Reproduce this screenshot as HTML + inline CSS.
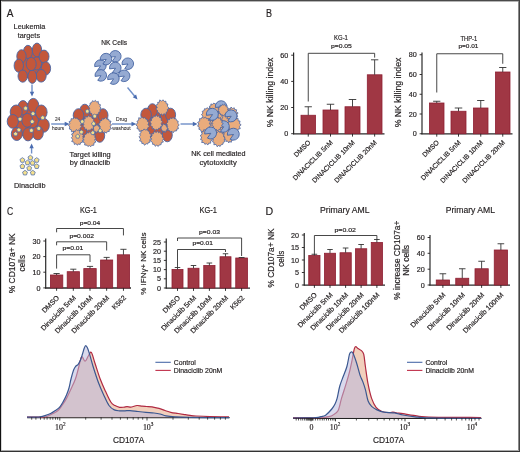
<!DOCTYPE html>
<html><head><meta charset="utf-8"><style>
html,body{margin:0;padding:0;background:#fff;}
svg{display:block;font-family:"Liberation Sans", sans-serif;will-change:transform;}
text{stroke:#231f20;stroke-width:0.18px;}
</style></head><body>
<svg width="520" height="452" viewBox="0 0 520 452">
<text x="6.80" y="16.60" font-size="10.6" text-anchor="start" fill="#231f20" textLength="6.70" lengthAdjust="spacingAndGlyphs">A</text>
<text x="29.40" y="29.20" font-size="8" text-anchor="middle" fill="#231f20" textLength="31.60" lengthAdjust="spacingAndGlyphs">Leukemia</text>
<text x="28.90" y="37.70" font-size="8" text-anchor="middle" fill="#231f20" textLength="22.30" lengthAdjust="spacingAndGlyphs">targets</text>
<ellipse cx="32.3" cy="63.5" rx="14" ry="15.5" fill="#c3573b"/>
<ellipse cx="36.80" cy="63.40" rx="4.8" ry="6.6" transform="rotate(0 36.80 63.40)" fill="#c3573b" stroke="#4866a6" stroke-width="0.9"/>
<ellipse cx="27.90" cy="51.90" rx="4.5" ry="6.6" transform="rotate(0 27.90 51.90)" fill="#c3573b" stroke="#4866a6" stroke-width="0.9"/>
<ellipse cx="37.00" cy="50.00" rx="4.7" ry="6.9" transform="rotate(0 37.00 50.00)" fill="#c3573b" stroke="#4866a6" stroke-width="0.9"/>
<ellipse cx="21.50" cy="56.30" rx="4.7" ry="6.6" transform="rotate(0 21.50 56.30)" fill="#c3573b" stroke="#4866a6" stroke-width="0.9"/>
<ellipse cx="44.00" cy="56.50" rx="5" ry="6.4" transform="rotate(0 44.00 56.50)" fill="#c3573b" stroke="#4866a6" stroke-width="0.9"/>
<ellipse cx="18.80" cy="65.70" rx="4.7" ry="6.6" transform="rotate(0 18.80 65.70)" fill="#c3573b" stroke="#4866a6" stroke-width="0.9"/>
<ellipse cx="45.90" cy="68.40" rx="4.7" ry="6.6" transform="rotate(0 45.90 68.40)" fill="#c3573b" stroke="#4866a6" stroke-width="0.9"/>
<ellipse cx="22.70" cy="76.10" rx="4.7" ry="6.1" transform="rotate(0 22.70 76.10)" fill="#c3573b" stroke="#4866a6" stroke-width="0.9"/>
<ellipse cx="41.20" cy="75.80" rx="5" ry="6.3" transform="rotate(0 41.20 75.80)" fill="#c3573b" stroke="#4866a6" stroke-width="0.9"/>
<ellipse cx="32.30" cy="76.70" rx="4.4" ry="6.7" transform="rotate(0 32.30 76.70)" fill="#c3573b" stroke="#4866a6" stroke-width="0.9"/>
<ellipse cx="31.20" cy="64.00" rx="5" ry="6.6" transform="rotate(0 31.20 64.00)" fill="#c3573b" stroke="#4866a6" stroke-width="0.9"/>
<line x1="32.00" y1="84.50" x2="32.00" y2="92.20" stroke="#6f8fc8" stroke-width="1.4"/>
<polygon points="32.00,96.50 29.80,91.70 34.20,91.70" fill="#4a6cb0"/>
<ellipse cx="28.3" cy="120" rx="17" ry="17" fill="#c3573b"/>
<ellipse cx="33.00" cy="121.00" rx="5.5" ry="6.9" transform="rotate(0 33.00 121.00)" fill="#c3573b" stroke="#4866a6" stroke-width="0.9"/>
<ellipse cx="22.00" cy="127.00" rx="5.5" ry="6.9" transform="rotate(0 22.00 127.00)" fill="#c3573b" stroke="#4866a6" stroke-width="0.9"/>
<ellipse cx="23.00" cy="107.80" rx="5.2" ry="7.2" transform="rotate(0 23.00 107.80)" fill="#c3573b" stroke="#4866a6" stroke-width="0.9"/>
<ellipse cx="33.30" cy="105.60" rx="5.5" ry="7.2" transform="rotate(0 33.30 105.60)" fill="#c3573b" stroke="#4866a6" stroke-width="0.9"/>
<ellipse cx="16.20" cy="112.00" rx="6" ry="7" transform="rotate(0 16.20 112.00)" fill="#c3573b" stroke="#4866a6" stroke-width="0.9"/>
<ellipse cx="41.30" cy="112.20" rx="5.8" ry="7.2" transform="rotate(0 41.30 112.20)" fill="#c3573b" stroke="#4866a6" stroke-width="0.9"/>
<ellipse cx="12.80" cy="121.40" rx="5.6" ry="6.9" transform="rotate(0 12.80 121.40)" fill="#c3573b" stroke="#4866a6" stroke-width="0.9"/>
<ellipse cx="43.50" cy="125.30" rx="5.8" ry="7" transform="rotate(0 43.50 125.30)" fill="#c3573b" stroke="#4866a6" stroke-width="0.9"/>
<ellipse cx="16.80" cy="133.90" rx="5.5" ry="6.6" transform="rotate(0 16.80 133.90)" fill="#c3573b" stroke="#4866a6" stroke-width="0.9"/>
<ellipse cx="37.80" cy="133.00" rx="5.5" ry="6.9" transform="rotate(0 37.80 133.00)" fill="#c3573b" stroke="#4866a6" stroke-width="0.9"/>
<ellipse cx="28.00" cy="134.30" rx="5.2" ry="6.6" transform="rotate(0 28.00 134.30)" fill="#c3573b" stroke="#4866a6" stroke-width="0.9"/>
<ellipse cx="27.30" cy="120.30" rx="5.5" ry="6.9" transform="rotate(0 27.30 120.30)" fill="#c3573b" stroke="#4866a6" stroke-width="0.9"/>
<polygon points="25.60,106.10 27.79,107.69 26.95,110.26 24.25,110.26 23.41,107.69" fill="#f5e08c" stroke="#4d6cab" stroke-width="0.75" stroke-linejoin="round"/>
<polygon points="33.00,111.40 35.19,112.99 34.35,115.56 31.65,115.56 30.81,112.99" fill="#f5e08c" stroke="#4d6cab" stroke-width="0.75" stroke-linejoin="round"/>
<polygon points="20.00,116.90 22.19,118.49 21.35,121.06 18.65,121.06 17.81,118.49" fill="#f5e08c" stroke="#4d6cab" stroke-width="0.75" stroke-linejoin="round"/>
<polygon points="32.20,119.40 34.39,120.99 33.55,123.56 30.85,123.56 30.01,120.99" fill="#f5e08c" stroke="#4d6cab" stroke-width="0.75" stroke-linejoin="round"/>
<polygon points="42.70,115.50 44.89,117.09 44.05,119.66 41.35,119.66 40.51,117.09" fill="#f5e08c" stroke="#4d6cab" stroke-width="0.75" stroke-linejoin="round"/>
<polygon points="38.80,126.20 40.99,127.79 40.15,130.36 37.45,130.36 36.61,127.79" fill="#f5e08c" stroke="#4d6cab" stroke-width="0.75" stroke-linejoin="round"/>
<polygon points="31.40,128.20 33.59,129.79 32.75,132.36 30.05,132.36 29.21,129.79" fill="#f5e08c" stroke="#4d6cab" stroke-width="0.75" stroke-linejoin="round"/>
<polygon points="18.90,127.70 21.09,129.29 20.25,131.86 17.55,131.86 16.71,129.29" fill="#f5e08c" stroke="#4d6cab" stroke-width="0.75" stroke-linejoin="round"/>
<polygon points="15.60,131.70 17.79,133.29 16.95,135.86 14.25,135.86 13.41,133.29" fill="#f5e08c" stroke="#4d6cab" stroke-width="0.75" stroke-linejoin="round"/>
<line x1="31.60" y1="153.50" x2="31.60" y2="147.80" stroke="#6f8fc8" stroke-width="1.4"/>
<polygon points="31.60,143.50 33.80,148.30 29.40,148.30" fill="#4a6cb0"/>
<polygon points="30.40,155.25 32.83,157.01 31.90,159.86 28.90,159.86 27.97,157.01" fill="#f5e08c" stroke="#4d6cab" stroke-width="0.75" stroke-linejoin="round"/>
<polygon points="22.40,157.65 24.83,159.41 23.90,162.26 20.90,162.26 19.97,159.41" fill="#f5e08c" stroke="#4d6cab" stroke-width="0.75" stroke-linejoin="round"/>
<polygon points="36.70,157.65 39.13,159.41 38.20,162.26 35.20,162.26 34.27,159.41" fill="#f5e08c" stroke="#4d6cab" stroke-width="0.75" stroke-linejoin="round"/>
<polygon points="27.50,160.15 29.93,161.91 29.00,164.76 26.00,164.76 25.07,161.91" fill="#f5e08c" stroke="#4d6cab" stroke-width="0.75" stroke-linejoin="round"/>
<polygon points="32.50,160.55 34.93,162.31 34.00,165.16 31.00,165.16 30.07,162.31" fill="#f5e08c" stroke="#4d6cab" stroke-width="0.75" stroke-linejoin="round"/>
<polygon points="22.40,163.85 24.83,165.61 23.90,168.46 20.90,168.46 19.97,165.61" fill="#f5e08c" stroke="#4d6cab" stroke-width="0.75" stroke-linejoin="round"/>
<polygon points="36.70,163.85 39.13,165.61 38.20,168.46 35.20,168.46 34.27,165.61" fill="#f5e08c" stroke="#4d6cab" stroke-width="0.75" stroke-linejoin="round"/>
<polygon points="29.20,165.75 31.63,167.51 30.70,170.36 27.70,170.36 26.77,167.51" fill="#f5e08c" stroke="#4d6cab" stroke-width="0.75" stroke-linejoin="round"/>
<polygon points="25.00,170.35 27.43,172.11 26.50,174.96 23.50,174.96 22.57,172.11" fill="#f5e08c" stroke="#4d6cab" stroke-width="0.75" stroke-linejoin="round"/>
<polygon points="32.80,170.35 35.23,172.11 34.30,174.96 31.30,174.96 30.37,172.11" fill="#f5e08c" stroke="#4d6cab" stroke-width="0.75" stroke-linejoin="round"/>
<text x="29.80" y="188.20" font-size="7.4" text-anchor="middle" fill="#231f20" textLength="31.50" lengthAdjust="spacingAndGlyphs">Dinaciclib</text>
<line x1="51.20" y1="124.00" x2="65.20" y2="124.00" stroke="#6f8fc8" stroke-width="1.4"/>
<polygon points="69.50,124.00 64.70,126.20 64.70,121.80" fill="#4a6cb0"/>
<text x="57.60" y="121.30" font-size="4.6" text-anchor="middle" fill="#231f20" textLength="5.30" lengthAdjust="spacingAndGlyphs" style="stroke-width:0.06px">24</text>
<text x="58.10" y="130.00" font-size="4.6" text-anchor="middle" fill="#231f20" textLength="12.20" lengthAdjust="spacingAndGlyphs" style="stroke-width:0.06px">hours</text>
<ellipse cx="90" cy="123.5" rx="16" ry="17" fill="#c3573b"/>
<ellipse cx="88.00" cy="118.00" rx="5" ry="6.5" transform="rotate(0 88.00 118.00)" fill="#c3573b" stroke="#4866a6" stroke-width="0.9"/>
<ellipse cx="82.00" cy="131.00" rx="5" ry="6.5" transform="rotate(0 82.00 131.00)" fill="#c3573b" stroke="#4866a6" stroke-width="0.9"/>
<ellipse cx="84.80" cy="111.10" rx="5" ry="6.9" transform="rotate(0 84.80 111.10)" fill="#c3573b" stroke="#4866a6" stroke-width="0.9"/>
<ellipse cx="78.50" cy="115.30" rx="5.3" ry="6.6" transform="rotate(0 78.50 115.30)" fill="#c3573b" stroke="#4866a6" stroke-width="0.9"/>
<ellipse cx="103.00" cy="115.30" rx="5" ry="6.6" transform="rotate(0 103.00 115.30)" fill="#c3573b" stroke="#4866a6" stroke-width="0.9"/>
<ellipse cx="99.70" cy="135.40" rx="5" ry="6.9" transform="rotate(0 99.70 135.40)" fill="#c3573b" stroke="#4866a6" stroke-width="0.9"/>
<polygon points="100.96,107.94 99.87,109.83 100.38,111.77 98.74,112.18 98.68,114.33 96.85,114.27 95.58,116.22 94.30,114.76 92.16,115.80 91.70,113.50 89.84,112.80 89.95,110.93 88.71,110.25 89.68,108.25 88.24,106.49 90.12,104.93 90.08,103.03 91.47,102.80 92.54,100.67 93.97,101.64 95.43,100.37 96.67,102.13 98.28,101.39 98.45,103.87 100.42,104.68 99.94,106.87" fill="#eaac7c" stroke="#4866a6" stroke-width="0.8" stroke-linejoin="round"/>
<polygon points="80.58,130.13 78.27,130.50 77.53,132.36 75.63,131.91 74.14,133.58 73.56,131.69 71.42,131.79 71.33,129.74 69.33,128.99 69.81,126.89 68.41,125.25 69.83,123.69 69.10,121.50 70.88,121.13 71.12,118.67 73.30,118.89 74.18,117.53 75.70,118.41 77.28,117.91 78.06,119.54 79.94,120.11 79.85,121.69 81.71,123.45 80.44,125.33 82.04,126.72 79.92,128.23" fill="#eaac7c" stroke="#4866a6" stroke-width="0.8" stroke-linejoin="round"/>
<polygon points="106.47,133.12 104.42,131.89 103.01,133.02 102.37,131.23 100.55,130.98 100.24,128.69 98.45,127.59 99.73,126.04 98.29,123.60 99.97,122.88 99.94,120.91 101.92,120.45 102.01,118.62 104.01,119.18 105.59,117.37 106.94,119.36 108.74,119.15 109.14,121.11 111.03,121.12 110.12,123.26 111.39,124.78 110.13,126.83 111.45,128.71 109.15,129.75 109.24,131.50 107.37,131.32" fill="#eaac7c" stroke="#4866a6" stroke-width="0.8" stroke-linejoin="round"/>
<polygon points="74.40,144.54 73.88,142.11 71.67,141.48 72.75,139.77 71.44,137.53 72.74,136.19 71.56,134.01 73.70,133.04 73.54,131.05 75.28,131.57 76.32,129.47 77.65,130.57 79.14,129.78 80.05,131.44 82.02,131.89 81.86,133.97 83.46,135.20 82.73,136.69 84.02,139.19 82.40,140.06 82.46,142.28 80.66,142.66 80.14,144.51 78.28,143.93 77.53,145.20 75.90,143.69" fill="#eaac7c" stroke="#4866a6" stroke-width="0.8" stroke-linejoin="round"/>
<polygon points="82.99,141.93 83.96,139.89 82.76,138.39 84.38,137.23 84.40,134.51 86.23,134.16 86.78,132.46 88.50,133.11 89.45,131.82 90.96,133.11 92.64,132.69 93.09,134.77 95.26,135.07 94.79,137.18 95.83,138.36 94.66,139.81 95.84,142.10 93.98,142.94 93.76,145.30 91.81,145.31 90.76,146.66 89.33,145.57 87.92,146.51 87.08,145.23 84.56,144.96 84.99,143.21" fill="#eaac7c" stroke="#4866a6" stroke-width="0.8" stroke-linejoin="round"/>
<polygon points="92.34,127.01 94.11,126.80 93.74,125.41 95.29,125.88 95.68,124.42 96.63,125.23 97.42,123.71 97.68,125.56 99.17,125.30 98.77,126.77 100.72,126.86 99.06,128.11 100.89,129.34 98.93,129.46 99.97,131.06 98.22,130.79 98.14,132.28 97.30,131.51 96.46,133.36 95.71,131.46 94.58,132.70 94.50,130.88 93.28,130.84 93.78,129.50 92.53,128.93 93.86,128.28" fill="#eaac7c" stroke="#4866a6" stroke-width="0.8" stroke-linejoin="round"/>
<polygon points="85.15,116.31 87.26,117.24 88.68,115.51 89.95,116.83 91.44,116.32 91.90,118.15 93.81,119.21 93.50,120.70 94.76,122.00 93.78,124.10 95.15,125.66 93.11,126.50 93.52,129.08 91.01,128.90 90.64,130.53 88.59,129.91 87.32,131.19 86.41,128.92 84.68,129.71 84.67,127.51 82.79,126.27 83.87,124.53 82.55,122.60 83.83,121.01 83.71,118.92 85.20,118.84" fill="#eaac7c" stroke="#4866a6" stroke-width="0.8" stroke-linejoin="round"/>
<polygon points="87.30,109.20 89.39,110.72 88.59,113.18 86.01,113.18 85.21,110.72" fill="#f5e08c" stroke="#4d6cab" stroke-width="0.75" stroke-linejoin="round"/>
<polygon points="94.70,114.10 96.79,115.62 95.99,118.08 93.41,118.08 92.61,115.62" fill="#f5e08c" stroke="#4d6cab" stroke-width="0.75" stroke-linejoin="round"/>
<polygon points="82.20,119.40 84.29,120.92 83.49,123.38 80.91,123.38 80.11,120.92" fill="#f5e08c" stroke="#4d6cab" stroke-width="0.75" stroke-linejoin="round"/>
<polygon points="93.60,121.50 95.69,123.02 94.89,125.48 92.31,125.48 91.51,123.02" fill="#f5e08c" stroke="#4d6cab" stroke-width="0.75" stroke-linejoin="round"/>
<polygon points="100.20,128.60 102.29,130.12 101.49,132.58 98.91,132.58 98.11,130.12" fill="#f5e08c" stroke="#4d6cab" stroke-width="0.75" stroke-linejoin="round"/>
<polygon points="92.80,130.60 94.89,132.12 94.09,134.58 91.51,134.58 90.71,132.12" fill="#f5e08c" stroke="#4d6cab" stroke-width="0.75" stroke-linejoin="round"/>
<polygon points="81.40,130.00 83.49,131.52 82.69,133.98 80.11,133.98 79.31,131.52" fill="#f5e08c" stroke="#4d6cab" stroke-width="0.75" stroke-linejoin="round"/>
<polygon points="77.70,134.20 79.79,135.72 78.99,138.18 76.41,138.18 75.61,135.72" fill="#f5e08c" stroke="#4d6cab" stroke-width="0.75" stroke-linejoin="round"/>
<ellipse cx="157.6" cy="123.0" rx="16" ry="17" fill="#c3573b"/>
<ellipse cx="155.60" cy="117.50" rx="5" ry="6.5" transform="rotate(0 155.60 117.50)" fill="#c3573b" stroke="#4866a6" stroke-width="0.9"/>
<ellipse cx="149.60" cy="130.50" rx="5" ry="6.5" transform="rotate(0 149.60 130.50)" fill="#c3573b" stroke="#4866a6" stroke-width="0.9"/>
<ellipse cx="152.40" cy="110.60" rx="5" ry="6.9" transform="rotate(0 152.40 110.60)" fill="#c3573b" stroke="#4866a6" stroke-width="0.9"/>
<ellipse cx="146.10" cy="114.80" rx="5.3" ry="6.6" transform="rotate(0 146.10 114.80)" fill="#c3573b" stroke="#4866a6" stroke-width="0.9"/>
<ellipse cx="170.60" cy="114.80" rx="5" ry="6.6" transform="rotate(0 170.60 114.80)" fill="#c3573b" stroke="#4866a6" stroke-width="0.9"/>
<ellipse cx="167.30" cy="134.90" rx="5" ry="6.9" transform="rotate(0 167.30 134.90)" fill="#c3573b" stroke="#4866a6" stroke-width="0.9"/>
<polygon points="165.71,114.66 163.86,113.67 162.69,115.76 161.70,113.90 159.67,114.91 159.20,112.97 157.36,112.14 157.55,110.56 155.54,108.89 157.32,107.68 155.75,105.24 158.01,104.09 157.60,102.43 159.29,102.32 159.75,99.89 161.59,101.24 163.00,99.79 164.48,101.54 165.79,101.11 166.28,103.75 167.87,103.99 167.35,106.26 169.14,107.98 167.22,109.60 167.83,111.04 166.28,112.15" fill="#eaac7c" stroke="#4866a6" stroke-width="0.8" stroke-linejoin="round"/>
<polygon points="142.12,132.51 141.06,131.10 139.26,131.36 138.72,129.00 136.96,128.65 137.49,126.39 135.80,124.89 137.69,122.77 136.90,121.37 138.66,120.26 138.77,117.66 140.67,118.52 141.62,116.62 143.32,118.14 145.08,117.49 145.85,119.23 147.36,119.31 147.37,121.31 149.01,122.85 148.00,124.53 149.58,126.52 147.67,127.85 147.83,129.98 145.86,130.41 145.31,132.59 143.40,131.19" fill="#eaac7c" stroke="#4866a6" stroke-width="0.8" stroke-linejoin="round"/>
<polygon points="167.83,130.26 167.89,128.22 166.31,126.82 167.36,125.14 166.38,123.24 167.87,122.19 167.45,119.54 169.34,119.87 170.55,117.76 172.01,118.64 173.09,117.24 174.44,118.93 175.84,118.53 176.77,120.72 178.21,121.23 177.79,123.36 179.21,124.75 177.84,126.56 178.43,128.75 176.88,129.01 176.57,130.88 174.38,131.00 173.17,132.79 172.18,131.34 170.31,132.06 169.74,130.73" fill="#eaac7c" stroke="#4866a6" stroke-width="0.8" stroke-linejoin="round"/>
<polygon points="139.11,136.78 140.42,135.24 139.61,133.84 141.02,132.71 141.14,130.39 142.90,130.64 143.93,129.04 145.79,130.05 147.47,129.49 148.09,131.15 149.59,131.12 149.62,133.77 151.67,134.60 150.07,136.99 151.68,138.76 149.79,139.52 150.02,142.24 148.42,142.40 147.70,144.10 146.25,143.73 144.42,145.22 143.44,143.35 141.88,143.55 141.67,141.38 139.52,140.90 140.62,139.09" fill="#eaac7c" stroke="#4866a6" stroke-width="0.8" stroke-linejoin="round"/>
<polygon points="151.78,133.53 153.51,133.76 154.08,131.42 156.41,132.42 157.69,130.83 158.59,132.78 160.48,131.62 160.93,133.94 162.60,134.47 162.34,137.18 164.05,138.59 162.49,140.17 163.35,142.08 161.39,142.47 161.08,144.62 159.11,145.00 158.24,146.43 156.71,145.14 155.22,146.31 154.18,144.19 152.71,144.44 152.38,142.34 150.38,140.82 151.62,139.13 150.52,137.43 152.05,136.00" fill="#eaac7c" stroke="#4866a6" stroke-width="0.8" stroke-linejoin="round"/>
<polygon points="163.20,123.23 164.17,124.68 165.36,123.89 165.37,125.25 166.72,124.64 166.29,126.46 167.77,126.45 166.87,127.73 168.42,128.97 166.80,129.16 167.24,130.67 165.90,130.64 165.86,132.38 164.53,131.15 164.14,132.73 163.25,130.90 162.28,131.66 162.23,130.29 161.04,130.42 161.52,128.87 160.01,128.22 161.41,127.58 160.15,126.39 161.89,125.94 161.17,124.34 162.84,125.20" fill="#eaac7c" stroke="#4866a6" stroke-width="0.8" stroke-linejoin="round"/>
<polygon points="158.96,115.70 159.90,117.97 161.68,117.85 160.97,120.27 162.60,121.50 161.20,123.68 162.39,126.06 160.45,126.82 160.57,128.28 158.69,128.23 158.04,130.00 156.34,129.35 154.78,130.39 153.94,128.57 152.02,128.91 152.43,126.65 150.47,125.78 151.12,123.44 149.66,121.73 151.57,120.56 151.42,118.36 152.88,117.99 153.52,115.83 155.31,116.59 156.19,114.64 157.38,116.50" fill="#eaac7c" stroke="#4866a6" stroke-width="0.8" stroke-linejoin="round"/>
<text x="90.10" y="156.50" font-size="7.5" text-anchor="middle" fill="#231f20" textLength="41.20" lengthAdjust="spacingAndGlyphs">Target killing</text>
<text x="90.00" y="164.60" font-size="7.5" text-anchor="middle" fill="#231f20" textLength="40.40" lengthAdjust="spacingAndGlyphs">by dinaciclib</text>
<line x1="112.00" y1="124.00" x2="132.00" y2="124.00" stroke="#6f8fc8" stroke-width="1.4"/>
<polygon points="136.30,124.00 131.50,126.20 131.50,121.80" fill="#4a6cb0"/>
<text x="121.50" y="121.25" font-size="4.6" text-anchor="middle" fill="#231f20" textLength="11.00" lengthAdjust="spacingAndGlyphs" style="stroke-width:0.06px">Drug</text>
<text x="121.50" y="129.60" font-size="4.6" text-anchor="middle" fill="#231f20" textLength="18.50" lengthAdjust="spacingAndGlyphs" style="stroke-width:0.06px">washout</text>
<text x="114.20" y="45.30" font-size="7.1" text-anchor="middle" fill="#231f20" textLength="25.70" lengthAdjust="spacingAndGlyphs">NK Cells</text>
<path d="M115.50,56.60 L109.59,57.31 A5.8,5.8 0 1 1 112.23,61.22 Z" fill="#95aad2" stroke="#40609f" stroke-width="0.85" stroke-linejoin="round"/>
<path d="M128.00,64.00 L122.09,64.71 A5.8,5.8 0 1 1 124.73,68.62 Z" fill="#95aad2" stroke="#40609f" stroke-width="0.85" stroke-linejoin="round"/>
<path d="M100.60,65.90 L94.69,66.61 A5.8,5.8 0 1 1 97.33,70.52 Z" fill="#95aad2" stroke="#40609f" stroke-width="0.85" stroke-linejoin="round"/>
<path d="M106.20,59.40 L100.29,60.11 A5.8,5.8 0 1 1 102.93,64.02 Z" fill="#95aad2" stroke="#40609f" stroke-width="0.85" stroke-linejoin="round"/>
<path d="M115.50,68.20 L109.59,68.91 A5.8,5.8 0 1 1 112.23,72.82 Z" fill="#95aad2" stroke="#40609f" stroke-width="0.85" stroke-linejoin="round"/>
<path d="M124.30,76.10 L118.39,76.81 A5.8,5.8 0 1 1 121.03,80.72 Z" fill="#95aad2" stroke="#40609f" stroke-width="0.85" stroke-linejoin="round"/>
<path d="M101.00,75.70 L95.09,76.41 A5.8,5.8 0 1 1 97.73,80.32 Z" fill="#95aad2" stroke="#40609f" stroke-width="0.85" stroke-linejoin="round"/>
<path d="M113.60,78.90 L107.69,79.61 A5.8,5.8 0 1 1 110.33,83.52 Z" fill="#95aad2" stroke="#40609f" stroke-width="0.85" stroke-linejoin="round"/>
<line x1="127.50" y1="87.50" x2="134.75" y2="96.20" stroke="#6f8fc8" stroke-width="1.4"/>
<polygon points="137.50,99.50 132.74,97.22 136.12,94.40" fill="#4a6cb0"/>
<line x1="180.50" y1="124.00" x2="193.30" y2="124.00" stroke="#6f8fc8" stroke-width="1.4"/>
<polygon points="197.60,124.00 192.80,126.20 192.80,121.80" fill="#4a6cb0"/>
<ellipse cx="219.1" cy="123.0" rx="16" ry="17" fill="#eaac7c"/>
<polygon points="222.76,117.35 221.69,119.11 222.25,120.94 220.67,121.27 220.71,123.33 219.01,123.21 217.90,125.12 216.75,123.66 214.78,124.73 214.45,122.49 212.71,121.89 212.89,120.12 211.69,119.51 212.68,117.64 211.23,115.99 213.05,114.57 212.93,112.76 214.23,112.60 215.14,110.54 216.45,111.54 217.76,110.27 218.83,111.99 220.35,111.21 220.40,113.60 222.28,114.30 221.75,116.36" fill="#eaac7c" stroke="#4866a6" stroke-width="0.8" stroke-linejoin="round"/>
<polygon points="214.47,136.16 213.21,135.98 212.25,137.95 211.03,136.57 209.56,137.85 208.80,135.99 206.73,136.10 207.05,133.76 205.40,132.67 206.57,131.10 205.10,129.38 207.07,127.83 206.38,125.58 208.01,125.84 208.82,123.25 210.36,124.40 211.27,122.89 212.63,124.66 214.31,124.42 214.21,126.14 216.11,127.06 215.26,128.62 216.67,129.62 215.51,131.35 216.37,133.19 214.65,134.26" fill="#eaac7c" stroke="#4866a6" stroke-width="0.8" stroke-linejoin="round"/>
<polygon points="212.49,118.34 212.00,116.62 209.92,116.71 210.35,114.59 208.50,113.71 209.29,111.21 207.93,109.75 209.64,108.13 209.42,106.17 211.02,105.74 210.84,103.96 212.54,104.34 213.99,102.95 215.00,104.12 216.59,103.74 216.67,105.49 218.63,106.35 218.22,108.50 219.42,109.77 218.39,111.66 219.04,113.43 217.65,113.98 217.78,116.43 216.07,116.37 215.52,118.03 214.01,117.11" fill="#eaac7c" stroke="#4866a6" stroke-width="0.8" stroke-linejoin="round"/>
<polygon points="201.78,118.25 203.06,116.17 201.41,114.76 202.97,113.07 202.19,111.40 204.16,110.52 204.47,108.70 205.95,109.03 207.00,107.63 208.25,108.68 210.23,107.79 210.62,110.22 212.65,109.76 211.77,112.02 213.80,113.66 212.52,115.11 213.94,116.65 211.92,117.66 212.11,120.15 210.03,120.03 209.51,121.74 207.86,120.93 206.91,122.26 205.76,120.47 203.89,121.09 203.86,118.47" fill="#eaac7c" stroke="#4866a6" stroke-width="0.8" stroke-linejoin="round"/>
<polygon points="226.47,111.57 228.63,110.79 228.83,108.38 230.34,109.23 230.97,107.05 232.62,108.51 234.29,107.81 234.51,109.40 236.82,109.89 236.03,111.43 238.18,113.15 236.57,114.68 237.57,116.43 236.14,117.87 236.90,119.52 234.70,119.61 234.11,121.58 232.74,120.84 231.39,122.39 230.46,120.56 228.67,120.90 228.75,118.60 226.93,118.77 227.66,116.39 225.93,114.64 227.54,113.81" fill="#eaac7c" stroke="#4866a6" stroke-width="0.8" stroke-linejoin="round"/>
<polygon points="227.53,126.90 228.91,128.28 230.63,127.66 230.91,129.23 232.59,129.03 232.53,131.65 234.15,132.18 233.36,134.35 234.88,136.53 233.19,137.22 233.37,139.58 231.71,140.15 231.28,142.30 229.51,141.31 228.86,142.93 227.38,140.93 226.12,141.46 225.70,139.59 224.27,139.23 224.49,136.70 222.91,135.28 224.32,134.03 223.16,132.14 225.20,130.74 224.68,128.76 226.71,129.17" fill="#eaac7c" stroke="#4866a6" stroke-width="0.8" stroke-linejoin="round"/>
<polygon points="208.92,118.59 208.31,120.50 210.58,120.95 209.52,123.80 210.91,125.43 209.26,126.85 209.61,128.88 207.81,129.92 207.32,131.84 205.65,131.30 204.21,132.53 203.36,131.33 201.64,132.29 200.53,129.83 198.82,129.21 199.37,127.45 197.57,126.14 198.98,124.00 197.59,122.39 199.70,121.16 199.49,118.66 201.32,118.74 202.44,117.07 203.74,118.12 205.58,117.04 206.43,118.67" fill="#eaac7c" stroke="#4866a6" stroke-width="0.8" stroke-linejoin="round"/>
<polygon points="241.15,124.71 239.39,126.42 240.28,128.70 238.06,129.13 237.76,131.37 236.21,131.06 234.74,132.86 233.10,131.29 231.83,132.58 230.74,130.02 228.59,130.12 229.38,127.81 227.29,126.55 228.54,124.81 227.59,123.02 229.56,121.68 229.12,120.00 231.32,119.69 232.04,117.37 233.25,118.72 235.30,117.54 235.83,119.08 237.93,118.11 238.27,120.98 240.06,120.98 239.45,123.58" fill="#eaac7c" stroke="#4866a6" stroke-width="0.8" stroke-linejoin="round"/>
<polygon points="210.61,143.23 208.70,143.15 207.91,144.95 206.13,143.45 204.94,144.44 203.90,142.57 201.61,142.46 202.43,140.30 200.59,139.68 201.70,136.96 200.05,135.71 202.17,134.16 201.62,131.92 203.29,131.62 203.82,129.60 205.78,130.42 207.21,128.51 208.42,130.30 210.21,130.50 210.16,131.88 212.60,132.75 211.44,134.63 212.91,136.30 211.71,138.57 212.52,139.91 210.76,140.82" fill="#eaac7c" stroke="#4866a6" stroke-width="0.8" stroke-linejoin="round"/>
<polygon points="217.26,146.84 216.08,144.36 213.86,144.77 214.10,142.43 212.51,141.82 213.46,139.30 212.24,138.23 213.84,136.39 213.24,134.74 214.91,133.87 215.11,131.91 217.13,132.59 218.99,131.02 219.72,132.57 221.92,131.58 222.11,133.62 223.99,134.13 223.50,136.64 225.14,137.85 224.07,140.01 225.12,141.47 223.20,142.41 223.02,144.18 221.32,144.63 219.87,146.59 218.84,145.04" fill="#eaac7c" stroke="#4866a6" stroke-width="0.8" stroke-linejoin="round"/>
<path d="M221.30,106.80 L215.39,107.51 A5.8,5.8 0 1 1 218.03,111.42 Z" fill="#95aad2" stroke="#40609f" stroke-width="0.85" stroke-linejoin="round"/>
<path d="M223.70,126.80 L217.79,127.51 A5.8,5.8 0 1 1 220.43,131.42 Z" fill="#95aad2" stroke="#40609f" stroke-width="0.85" stroke-linejoin="round"/>
<polygon points="224.64,103.98 225.49,106.02 226.89,105.74 227.05,107.60 228.37,108.03 227.51,109.80 228.96,111.18 227.18,112.12 227.77,113.54 225.89,113.44 225.69,115.41 224.36,114.75 222.96,116.34 222.32,114.76 220.64,115.00 220.25,113.38 218.91,113.22 219.26,111.61 217.75,110.23 219.05,109.34 218.31,107.54 220.20,107.04 220.14,105.22 221.81,105.71 222.48,104.24 223.54,105.06" fill="#eaac7c" stroke="#4866a6" stroke-width="0.8" stroke-linejoin="round"/>
<polygon points="223.35,123.53 221.61,125.07 222.59,127.18 220.50,127.47 220.41,129.59 219.02,129.22 217.84,130.96 216.49,129.41 215.36,130.72 214.57,128.28 212.57,128.48 213.47,126.30 211.47,125.21 212.74,123.63 211.75,122.00 213.61,120.84 213.08,119.25 215.05,119.09 215.54,116.84 216.61,118.21 218.32,117.03 218.70,118.54 220.59,117.50 220.69,120.22 222.39,120.14 221.67,122.53" fill="#eaac7c" stroke="#4866a6" stroke-width="0.8" stroke-linejoin="round"/>
<path d="M212.50,114.60 L206.39,115.34 A6.0,6.0 0 1 1 209.12,119.39 Z" fill="#95aad2" stroke="#40609f" stroke-width="0.85" stroke-linejoin="round"/>
<path d="M231.20,116.20 L225.09,116.94 A6.0,6.0 0 1 1 227.82,120.99 Z" fill="#95aad2" stroke="#40609f" stroke-width="0.85" stroke-linejoin="round"/>
<path d="M210.80,133.30 L204.69,134.04 A6.0,6.0 0 1 1 207.42,138.09 Z" fill="#95aad2" stroke="#40609f" stroke-width="0.85" stroke-linejoin="round"/>
<path d="M233.50,134.50 L227.39,135.24 A6.0,6.0 0 1 1 230.12,139.29 Z" fill="#95aad2" stroke="#40609f" stroke-width="0.85" stroke-linejoin="round"/>
<text x="218.40" y="156.10" font-size="7.5" text-anchor="middle" fill="#231f20" textLength="54.50" lengthAdjust="spacingAndGlyphs">NK cell mediated</text>
<text x="218.10" y="164.70" font-size="7.5" text-anchor="middle" fill="#231f20" textLength="37.20" lengthAdjust="spacingAndGlyphs">cytotoxicity</text>
<text x="265.90" y="16.80" font-size="11.2" text-anchor="start" fill="#231f20" textLength="6.00" lengthAdjust="spacingAndGlyphs">B</text>
<text x="341.00" y="40.30" font-size="6.6" text-anchor="middle" fill="#231f20" textLength="13.80" lengthAdjust="spacingAndGlyphs">KG-1</text>
<text x="341.40" y="47.90" font-size="5.9" text-anchor="middle" fill="#231f20" textLength="21.00" lengthAdjust="spacingAndGlyphs">p=0.05</text>
<line x1="293.60" y1="52.50" x2="293.60" y2="134.30" stroke="#2a2a2a" stroke-width="1.2"/>
<line x1="293.00" y1="133.80" x2="384.50" y2="133.80" stroke="#2a2a2a" stroke-width="1.35"/>
<line x1="291.20" y1="55.20" x2="293.60" y2="55.20" stroke="#231f20" stroke-width="0.9"/>
<text x="288.30" y="57.80" font-size="7.2" text-anchor="end" fill="#231f20">60</text>
<line x1="291.20" y1="81.40" x2="293.60" y2="81.40" stroke="#231f20" stroke-width="0.9"/>
<text x="288.30" y="84.00" font-size="7.2" text-anchor="end" fill="#231f20">40</text>
<line x1="291.20" y1="107.50" x2="293.60" y2="107.50" stroke="#231f20" stroke-width="0.9"/>
<text x="288.30" y="110.10" font-size="7.2" text-anchor="end" fill="#231f20">20</text>
<line x1="291.20" y1="133.70" x2="293.60" y2="133.70" stroke="#231f20" stroke-width="0.9"/>
<text x="288.30" y="136.30" font-size="7.2" text-anchor="end" fill="#231f20">0</text>
<rect x="301.00" y="115.25" width="14.50" height="18.45" fill="#a03744" stroke="#8e1f33" stroke-width="0.8"/>
<line x1="308.25" y1="115.25" x2="308.25" y2="106.75" stroke="#333" stroke-width="0.9"/>
<line x1="304.62" y1="106.75" x2="311.88" y2="106.75" stroke="#333" stroke-width="0.9"/>
<line x1="308.25" y1="133.70" x2="308.25" y2="136.60" stroke="#231f20" stroke-width="0.9"/>
<text x="310.95" y="143.00" font-size="6.8" text-anchor="end" fill="#231f20" transform="rotate(-45 310.95 143.00)">DMSO</text>
<rect x="323.00" y="110.00" width="15.00" height="23.70" fill="#a03744" stroke="#8e1f33" stroke-width="0.8"/>
<line x1="330.50" y1="110.00" x2="330.50" y2="104.25" stroke="#333" stroke-width="0.9"/>
<line x1="326.75" y1="104.25" x2="334.25" y2="104.25" stroke="#333" stroke-width="0.9"/>
<line x1="330.50" y1="133.70" x2="330.50" y2="136.60" stroke="#231f20" stroke-width="0.9"/>
<text x="333.20" y="143.00" font-size="6.8" text-anchor="end" fill="#231f20" transform="rotate(-45 333.20 143.00)">DINACICLIB 5nM</text>
<rect x="345.00" y="106.75" width="15.00" height="26.95" fill="#a03744" stroke="#8e1f33" stroke-width="0.8"/>
<line x1="352.50" y1="106.75" x2="352.50" y2="99.50" stroke="#333" stroke-width="0.9"/>
<line x1="348.75" y1="99.50" x2="356.25" y2="99.50" stroke="#333" stroke-width="0.9"/>
<line x1="352.50" y1="133.70" x2="352.50" y2="136.60" stroke="#231f20" stroke-width="0.9"/>
<text x="355.20" y="143.00" font-size="6.8" text-anchor="end" fill="#231f20" transform="rotate(-45 355.20 143.00)">DINACICLIB 10nM</text>
<rect x="367.30" y="74.80" width="14.70" height="58.90" fill="#a03744" stroke="#8e1f33" stroke-width="0.8"/>
<line x1="374.65" y1="74.80" x2="374.65" y2="59.80" stroke="#333" stroke-width="0.9"/>
<line x1="370.97" y1="59.80" x2="378.32" y2="59.80" stroke="#333" stroke-width="0.9"/>
<line x1="374.65" y1="133.70" x2="374.65" y2="136.60" stroke="#231f20" stroke-width="0.9"/>
<text x="377.35" y="143.00" font-size="6.8" text-anchor="end" fill="#231f20" transform="rotate(-45 377.35 143.00)">DINACICLIB 20nM</text>
<polyline points="308.25,101.50 308.25,53.30 374.65,53.30 374.65,57.60" fill="none" stroke="#333" stroke-width="0.9"/>
<text x="273.10" y="92.50" font-size="8.6" text-anchor="middle" fill="#231f20" textLength="69.70" lengthAdjust="spacingAndGlyphs" transform="rotate(-90 273.10 92.50)">% NK killing index</text>
<text x="468.80" y="40.60" font-size="6.9" text-anchor="middle" fill="#231f20" textLength="16.80" lengthAdjust="spacingAndGlyphs">THP-1</text>
<text x="468.40" y="48.40" font-size="5.9" text-anchor="middle" fill="#231f20" textLength="20.00" lengthAdjust="spacingAndGlyphs">p=0.01</text>
<line x1="422.00" y1="52.50" x2="422.00" y2="134.35" stroke="#2a2a2a" stroke-width="1.2"/>
<line x1="421.40" y1="133.85" x2="512.50" y2="133.85" stroke="#2a2a2a" stroke-width="1.35"/>
<line x1="419.60" y1="54.75" x2="422.00" y2="54.75" stroke="#231f20" stroke-width="0.9"/>
<text x="416.70" y="57.35" font-size="7.2" text-anchor="end" fill="#231f20">80</text>
<line x1="419.60" y1="74.50" x2="422.00" y2="74.50" stroke="#231f20" stroke-width="0.9"/>
<text x="416.70" y="77.10" font-size="7.2" text-anchor="end" fill="#231f20">60</text>
<line x1="419.60" y1="94.25" x2="422.00" y2="94.25" stroke="#231f20" stroke-width="0.9"/>
<text x="416.70" y="96.85" font-size="7.2" text-anchor="end" fill="#231f20">40</text>
<line x1="419.60" y1="114.00" x2="422.00" y2="114.00" stroke="#231f20" stroke-width="0.9"/>
<text x="416.70" y="116.60" font-size="7.2" text-anchor="end" fill="#231f20">20</text>
<line x1="419.60" y1="133.75" x2="422.00" y2="133.75" stroke="#231f20" stroke-width="0.9"/>
<text x="416.70" y="136.35" font-size="7.2" text-anchor="end" fill="#231f20">0</text>
<rect x="429.50" y="103.00" width="14.50" height="30.75" fill="#a03744" stroke="#8e1f33" stroke-width="0.8"/>
<line x1="436.75" y1="103.00" x2="436.75" y2="101.25" stroke="#333" stroke-width="0.9"/>
<line x1="433.12" y1="101.25" x2="440.38" y2="101.25" stroke="#333" stroke-width="0.9"/>
<line x1="436.75" y1="133.75" x2="436.75" y2="136.65" stroke="#231f20" stroke-width="0.9"/>
<text x="439.45" y="143.05" font-size="6.8" text-anchor="end" fill="#231f20" transform="rotate(-45 439.45 143.05)">DMSO</text>
<rect x="451.00" y="111.25" width="15.00" height="22.50" fill="#a03744" stroke="#8e1f33" stroke-width="0.8"/>
<line x1="458.50" y1="111.25" x2="458.50" y2="108.00" stroke="#333" stroke-width="0.9"/>
<line x1="454.75" y1="108.00" x2="462.25" y2="108.00" stroke="#333" stroke-width="0.9"/>
<line x1="458.50" y1="133.75" x2="458.50" y2="136.65" stroke="#231f20" stroke-width="0.9"/>
<text x="461.20" y="143.05" font-size="6.8" text-anchor="end" fill="#231f20" transform="rotate(-45 461.20 143.05)">DINACICLIB 5nM</text>
<rect x="473.50" y="108.00" width="14.50" height="25.75" fill="#a03744" stroke="#8e1f33" stroke-width="0.8"/>
<line x1="480.75" y1="108.00" x2="480.75" y2="100.50" stroke="#333" stroke-width="0.9"/>
<line x1="477.12" y1="100.50" x2="484.38" y2="100.50" stroke="#333" stroke-width="0.9"/>
<line x1="480.75" y1="133.75" x2="480.75" y2="136.65" stroke="#231f20" stroke-width="0.9"/>
<text x="483.45" y="143.05" font-size="6.8" text-anchor="end" fill="#231f20" transform="rotate(-45 483.45 143.05)">DINACICLIB 10nM</text>
<rect x="495.50" y="72.00" width="14.50" height="61.75" fill="#a03744" stroke="#8e1f33" stroke-width="0.8"/>
<line x1="502.75" y1="72.00" x2="502.75" y2="67.50" stroke="#333" stroke-width="0.9"/>
<line x1="499.12" y1="67.50" x2="506.38" y2="67.50" stroke="#333" stroke-width="0.9"/>
<line x1="502.75" y1="133.75" x2="502.75" y2="136.65" stroke="#231f20" stroke-width="0.9"/>
<text x="505.45" y="143.05" font-size="6.8" text-anchor="end" fill="#231f20" transform="rotate(-45 505.45 143.05)">DINACICLIB 20nM</text>
<polyline points="436.75,92.50 436.75,53.75 502.75,53.75 502.75,63.75" fill="none" stroke="#333" stroke-width="0.9"/>
<text x="401.10" y="92.50" font-size="8.6" text-anchor="middle" fill="#231f20" textLength="69.70" lengthAdjust="spacingAndGlyphs" transform="rotate(-90 401.10 92.50)">% NK killing index</text>
<text x="6.90" y="214.90" font-size="11.2" text-anchor="start" fill="#231f20" textLength="6.20" lengthAdjust="spacingAndGlyphs">C</text>
<text x="88.45" y="212.60" font-size="9.1" text-anchor="middle" fill="#231f20" textLength="16.90" lengthAdjust="spacingAndGlyphs">KG-1</text>
<line x1="45.70" y1="238.40" x2="45.70" y2="288.50" stroke="#2a2a2a" stroke-width="1.2"/>
<line x1="45.10" y1="288.00" x2="131.00" y2="288.00" stroke="#2a2a2a" stroke-width="1.35"/>
<line x1="43.30" y1="241.00" x2="45.70" y2="241.00" stroke="#231f20" stroke-width="0.9"/>
<text x="40.40" y="243.60" font-size="7.2" text-anchor="end" fill="#231f20">30</text>
<line x1="43.30" y1="256.60" x2="45.70" y2="256.60" stroke="#231f20" stroke-width="0.9"/>
<text x="40.40" y="259.20" font-size="7.2" text-anchor="end" fill="#231f20">20</text>
<line x1="43.30" y1="272.20" x2="45.70" y2="272.20" stroke="#231f20" stroke-width="0.9"/>
<text x="40.40" y="274.80" font-size="7.2" text-anchor="end" fill="#231f20">10</text>
<line x1="43.30" y1="287.90" x2="45.70" y2="287.90" stroke="#231f20" stroke-width="0.9"/>
<text x="40.40" y="290.50" font-size="7.2" text-anchor="end" fill="#231f20">0</text>
<rect x="50.40" y="275.00" width="12.40" height="12.90" fill="#a03744" stroke="#8e1f33" stroke-width="0.8"/>
<line x1="56.60" y1="275.00" x2="56.60" y2="273.50" stroke="#333" stroke-width="0.9"/>
<line x1="53.50" y1="273.50" x2="59.70" y2="273.50" stroke="#333" stroke-width="0.9"/>
<line x1="56.60" y1="287.90" x2="56.60" y2="290.80" stroke="#231f20" stroke-width="0.9"/>
<text x="59.70" y="298.30" font-size="7.1" text-anchor="end" fill="#231f20" transform="rotate(-45 59.70 298.30)">DMSO</text>
<rect x="67.20" y="271.70" width="12.20" height="16.20" fill="#a03744" stroke="#8e1f33" stroke-width="0.8"/>
<line x1="73.30" y1="271.70" x2="73.30" y2="269.20" stroke="#333" stroke-width="0.9"/>
<line x1="70.25" y1="269.20" x2="76.35" y2="269.20" stroke="#333" stroke-width="0.9"/>
<line x1="73.30" y1="287.90" x2="73.30" y2="290.80" stroke="#231f20" stroke-width="0.9"/>
<text x="76.40" y="298.30" font-size="7.1" text-anchor="end" fill="#231f20" transform="rotate(-45 76.40 298.30)">Dinaciclib 5nM</text>
<rect x="83.80" y="268.60" width="12.40" height="19.30" fill="#a03744" stroke="#8e1f33" stroke-width="0.8"/>
<line x1="90.00" y1="268.60" x2="90.00" y2="266.40" stroke="#333" stroke-width="0.9"/>
<line x1="86.90" y1="266.40" x2="93.10" y2="266.40" stroke="#333" stroke-width="0.9"/>
<line x1="90.00" y1="287.90" x2="90.00" y2="290.80" stroke="#231f20" stroke-width="0.9"/>
<text x="93.10" y="298.30" font-size="7.1" text-anchor="end" fill="#231f20" transform="rotate(-45 93.10 298.30)">Dinaciclib 10nM</text>
<rect x="100.60" y="260.00" width="12.10" height="27.90" fill="#a03744" stroke="#8e1f33" stroke-width="0.8"/>
<line x1="106.65" y1="260.00" x2="106.65" y2="257.40" stroke="#333" stroke-width="0.9"/>
<line x1="103.62" y1="257.40" x2="109.68" y2="257.40" stroke="#333" stroke-width="0.9"/>
<line x1="106.65" y1="287.90" x2="106.65" y2="290.80" stroke="#231f20" stroke-width="0.9"/>
<text x="109.75" y="298.30" font-size="7.1" text-anchor="end" fill="#231f20" transform="rotate(-45 109.75 298.30)">Dinaciclib 20nM</text>
<rect x="117.30" y="254.80" width="12.30" height="33.10" fill="#a03744" stroke="#8e1f33" stroke-width="0.8"/>
<line x1="123.45" y1="254.80" x2="123.45" y2="249.30" stroke="#333" stroke-width="0.9"/>
<line x1="120.37" y1="249.30" x2="126.52" y2="249.30" stroke="#333" stroke-width="0.9"/>
<line x1="123.45" y1="287.90" x2="123.45" y2="290.80" stroke="#231f20" stroke-width="0.9"/>
<text x="126.55" y="298.30" font-size="7.1" text-anchor="end" fill="#231f20" transform="rotate(-45 126.55 298.30)">K562</text>
<text x="89.95" y="224.55" font-size="5.9" text-anchor="middle" fill="#231f20" textLength="20.30" lengthAdjust="spacingAndGlyphs">p=0.04</text>
<polyline points="56.60,232.30 56.60,228.50 123.45,228.50 123.45,235.40" fill="none" stroke="#333" stroke-width="0.9"/>
<text x="81.70" y="237.50" font-size="5.9" text-anchor="middle" fill="#231f20" textLength="24.60" lengthAdjust="spacingAndGlyphs">p=0.002</text>
<polyline points="56.60,245.30 56.60,241.80 106.65,241.80 106.65,250.50" fill="none" stroke="#333" stroke-width="0.9"/>
<text x="72.90" y="249.60" font-size="5.9" text-anchor="middle" fill="#231f20" textLength="20.80" lengthAdjust="spacingAndGlyphs">p=0.01</text>
<polyline points="56.60,268.60 56.60,254.80 90.00,254.80 90.00,262.00" fill="none" stroke="#333" stroke-width="0.9"/>
<text x="15.10" y="263.30" font-size="8.5" text-anchor="middle" fill="#231f20" textLength="60.00" lengthAdjust="spacingAndGlyphs" transform="rotate(-90 15.10 263.30)">% CD107a+ NK</text>
<text x="25.00" y="263.20" font-size="8.3" text-anchor="middle" fill="#231f20" textLength="16.50" lengthAdjust="spacingAndGlyphs" transform="rotate(-90 25.00 263.20)">cells</text>
<text x="208.25" y="212.60" font-size="9.1" text-anchor="middle" fill="#231f20" textLength="17.50" lengthAdjust="spacingAndGlyphs">KG-1</text>
<line x1="166.25" y1="238.50" x2="166.25" y2="288.60" stroke="#2a2a2a" stroke-width="1.2"/>
<line x1="165.65" y1="288.10" x2="250.00" y2="288.10" stroke="#2a2a2a" stroke-width="1.35"/>
<line x1="163.85" y1="242.00" x2="166.25" y2="242.00" stroke="#231f20" stroke-width="0.9"/>
<text x="160.95" y="244.60" font-size="7.2" text-anchor="end" fill="#231f20">25</text>
<line x1="163.85" y1="251.20" x2="166.25" y2="251.20" stroke="#231f20" stroke-width="0.9"/>
<text x="160.95" y="253.80" font-size="7.2" text-anchor="end" fill="#231f20">20</text>
<line x1="163.85" y1="260.40" x2="166.25" y2="260.40" stroke="#231f20" stroke-width="0.9"/>
<text x="160.95" y="263.00" font-size="7.2" text-anchor="end" fill="#231f20">15</text>
<line x1="163.85" y1="269.60" x2="166.25" y2="269.60" stroke="#231f20" stroke-width="0.9"/>
<text x="160.95" y="272.20" font-size="7.2" text-anchor="end" fill="#231f20">10</text>
<line x1="163.85" y1="278.80" x2="166.25" y2="278.80" stroke="#231f20" stroke-width="0.9"/>
<text x="160.95" y="281.40" font-size="7.2" text-anchor="end" fill="#231f20">5</text>
<line x1="163.85" y1="288.00" x2="166.25" y2="288.00" stroke="#231f20" stroke-width="0.9"/>
<text x="160.95" y="290.60" font-size="7.2" text-anchor="end" fill="#231f20">0</text>
<rect x="172.00" y="269.50" width="11.00" height="18.50" fill="#a03744" stroke="#8e1f33" stroke-width="0.8"/>
<line x1="177.50" y1="269.50" x2="177.50" y2="267.50" stroke="#333" stroke-width="0.9"/>
<line x1="174.75" y1="267.50" x2="180.25" y2="267.50" stroke="#333" stroke-width="0.9"/>
<line x1="177.50" y1="288.00" x2="177.50" y2="290.90" stroke="#231f20" stroke-width="0.9"/>
<text x="180.60" y="298.40" font-size="7.1" text-anchor="end" fill="#231f20" transform="rotate(-45 180.60 298.40)">DMSO</text>
<rect x="188.00" y="268.25" width="11.00" height="19.75" fill="#a03744" stroke="#8e1f33" stroke-width="0.8"/>
<line x1="193.50" y1="268.25" x2="193.50" y2="265.50" stroke="#333" stroke-width="0.9"/>
<line x1="190.75" y1="265.50" x2="196.25" y2="265.50" stroke="#333" stroke-width="0.9"/>
<line x1="193.50" y1="288.00" x2="193.50" y2="290.90" stroke="#231f20" stroke-width="0.9"/>
<text x="196.60" y="298.40" font-size="7.1" text-anchor="end" fill="#231f20" transform="rotate(-45 196.60 298.40)">Dinaciclib 5nM</text>
<rect x="203.75" y="265.50" width="11.25" height="22.50" fill="#a03744" stroke="#8e1f33" stroke-width="0.8"/>
<line x1="209.38" y1="265.50" x2="209.38" y2="263.00" stroke="#333" stroke-width="0.9"/>
<line x1="206.56" y1="263.00" x2="212.19" y2="263.00" stroke="#333" stroke-width="0.9"/>
<line x1="209.38" y1="288.00" x2="209.38" y2="290.90" stroke="#231f20" stroke-width="0.9"/>
<text x="212.47" y="298.40" font-size="7.1" text-anchor="end" fill="#231f20" transform="rotate(-45 212.47 298.40)">Dinaciclib 10nM</text>
<rect x="220.00" y="256.75" width="11.00" height="31.25" fill="#a03744" stroke="#8e1f33" stroke-width="0.8"/>
<line x1="225.50" y1="256.75" x2="225.50" y2="253.75" stroke="#333" stroke-width="0.9"/>
<line x1="222.75" y1="253.75" x2="228.25" y2="253.75" stroke="#333" stroke-width="0.9"/>
<line x1="225.50" y1="288.00" x2="225.50" y2="290.90" stroke="#231f20" stroke-width="0.9"/>
<text x="228.60" y="298.40" font-size="7.1" text-anchor="end" fill="#231f20" transform="rotate(-45 228.60 298.40)">Dinaciclib 20nM</text>
<rect x="235.75" y="258.00" width="11.75" height="30.00" fill="#a03744" stroke="#8e1f33" stroke-width="0.8"/>
<line x1="241.62" y1="258.00" x2="241.62" y2="257.50" stroke="#333" stroke-width="0.9"/>
<line x1="238.69" y1="257.50" x2="244.56" y2="257.50" stroke="#333" stroke-width="0.9"/>
<line x1="241.62" y1="288.00" x2="241.62" y2="290.90" stroke="#231f20" stroke-width="0.9"/>
<text x="244.72" y="298.40" font-size="7.1" text-anchor="end" fill="#231f20" transform="rotate(-45 244.72 298.40)">K562</text>
<text x="209.50" y="233.50" font-size="5.9" text-anchor="middle" fill="#231f20" textLength="21.00" lengthAdjust="spacingAndGlyphs">p=0.03</text>
<polyline points="177.50,241.00 177.50,238.00 241.60,238.00 241.60,256.00" fill="none" stroke="#333" stroke-width="0.9"/>
<text x="202.75" y="244.80" font-size="5.9" text-anchor="middle" fill="#231f20" textLength="20.50" lengthAdjust="spacingAndGlyphs">p=0.01</text>
<polyline points="177.50,267.50 177.50,249.50 225.50,249.50 225.50,252.00" fill="none" stroke="#333" stroke-width="0.9"/>
<text x="145.70" y="263.60" font-size="8.0" text-anchor="middle" fill="#231f20" textLength="62.20" lengthAdjust="spacingAndGlyphs" transform="rotate(-90 145.70 263.60)">% IFNγ+ NK cells</text>
<text x="265.40" y="215.00" font-size="10.9" text-anchor="start" fill="#231f20" textLength="7.70" lengthAdjust="spacingAndGlyphs">D</text>
<text x="344.75" y="213.40" font-size="9.0" text-anchor="middle" fill="#231f20" textLength="49.50" lengthAdjust="spacingAndGlyphs">Primary AML</text>
<line x1="304.25" y1="233.00" x2="304.25" y2="285.60" stroke="#2a2a2a" stroke-width="1.2"/>
<line x1="303.65" y1="285.10" x2="385.00" y2="285.10" stroke="#2a2a2a" stroke-width="1.35"/>
<line x1="301.85" y1="235.00" x2="304.25" y2="235.00" stroke="#231f20" stroke-width="0.9"/>
<text x="298.95" y="237.60" font-size="7.2" text-anchor="end" fill="#231f20">20</text>
<line x1="301.85" y1="247.50" x2="304.25" y2="247.50" stroke="#231f20" stroke-width="0.9"/>
<text x="298.95" y="250.10" font-size="7.2" text-anchor="end" fill="#231f20">15</text>
<line x1="301.85" y1="260.00" x2="304.25" y2="260.00" stroke="#231f20" stroke-width="0.9"/>
<text x="298.95" y="262.60" font-size="7.2" text-anchor="end" fill="#231f20">10</text>
<line x1="301.85" y1="272.50" x2="304.25" y2="272.50" stroke="#231f20" stroke-width="0.9"/>
<text x="298.95" y="275.10" font-size="7.2" text-anchor="end" fill="#231f20">5</text>
<line x1="301.85" y1="285.00" x2="304.25" y2="285.00" stroke="#231f20" stroke-width="0.9"/>
<text x="298.95" y="287.60" font-size="7.2" text-anchor="end" fill="#231f20">0</text>
<rect x="308.75" y="255.50" width="11.25" height="29.50" fill="#a03744" stroke="#8e1f33" stroke-width="0.8"/>
<line x1="314.38" y1="255.50" x2="314.38" y2="254.25" stroke="#333" stroke-width="0.9"/>
<line x1="311.56" y1="254.25" x2="317.19" y2="254.25" stroke="#333" stroke-width="0.9"/>
<line x1="314.38" y1="285.00" x2="314.38" y2="287.90" stroke="#231f20" stroke-width="0.9"/>
<text x="317.47" y="295.40" font-size="7.1" text-anchor="end" fill="#231f20" transform="rotate(-45 317.47 295.40)">DMSO</text>
<rect x="324.50" y="253.25" width="11.00" height="31.75" fill="#a03744" stroke="#8e1f33" stroke-width="0.8"/>
<line x1="330.00" y1="253.25" x2="330.00" y2="249.50" stroke="#333" stroke-width="0.9"/>
<line x1="327.25" y1="249.50" x2="332.75" y2="249.50" stroke="#333" stroke-width="0.9"/>
<line x1="330.00" y1="285.00" x2="330.00" y2="287.90" stroke="#231f20" stroke-width="0.9"/>
<text x="333.10" y="295.40" font-size="7.1" text-anchor="end" fill="#231f20" transform="rotate(-45 333.10 295.40)">Dinaciclib 5nM</text>
<rect x="340.00" y="252.75" width="11.25" height="32.25" fill="#a03744" stroke="#8e1f33" stroke-width="0.8"/>
<line x1="345.62" y1="252.75" x2="345.62" y2="248.00" stroke="#333" stroke-width="0.9"/>
<line x1="342.81" y1="248.00" x2="348.44" y2="248.00" stroke="#333" stroke-width="0.9"/>
<line x1="345.62" y1="285.00" x2="345.62" y2="287.90" stroke="#231f20" stroke-width="0.9"/>
<text x="348.72" y="295.40" font-size="7.1" text-anchor="end" fill="#231f20" transform="rotate(-45 348.72 295.40)">Dinaciclib 10nM</text>
<rect x="355.50" y="248.75" width="11.25" height="36.25" fill="#a03744" stroke="#8e1f33" stroke-width="0.8"/>
<line x1="361.12" y1="248.75" x2="361.12" y2="244.50" stroke="#333" stroke-width="0.9"/>
<line x1="358.31" y1="244.50" x2="363.94" y2="244.50" stroke="#333" stroke-width="0.9"/>
<line x1="361.12" y1="285.00" x2="361.12" y2="287.90" stroke="#231f20" stroke-width="0.9"/>
<text x="364.22" y="295.40" font-size="7.1" text-anchor="end" fill="#231f20" transform="rotate(-45 364.22 295.40)">Dinaciclib 20nM</text>
<rect x="371.25" y="242.50" width="11.25" height="42.50" fill="#a03744" stroke="#8e1f33" stroke-width="0.8"/>
<line x1="376.88" y1="242.50" x2="376.88" y2="239.50" stroke="#333" stroke-width="0.9"/>
<line x1="374.06" y1="239.50" x2="379.69" y2="239.50" stroke="#333" stroke-width="0.9"/>
<line x1="376.88" y1="285.00" x2="376.88" y2="287.90" stroke="#231f20" stroke-width="0.9"/>
<text x="379.97" y="295.40" font-size="7.1" text-anchor="end" fill="#231f20" transform="rotate(-45 379.97 295.40)">Dinaciclib 100nM</text>
<text x="345.25" y="231.60" font-size="5.9" text-anchor="middle" fill="#231f20" textLength="21.50" lengthAdjust="spacingAndGlyphs">p=0.02</text>
<polyline points="314.40,255.00 314.40,235.50 376.90,235.50 376.90,240.00" fill="none" stroke="#333" stroke-width="0.9"/>
<text x="273.50" y="258.00" font-size="8.3" text-anchor="middle" fill="#231f20" textLength="58.90" lengthAdjust="spacingAndGlyphs" transform="rotate(-90 273.50 258.00)">% CD107a+ NK</text>
<text x="283.70" y="258.70" font-size="8.2" text-anchor="middle" fill="#231f20" textLength="16.30" lengthAdjust="spacingAndGlyphs" transform="rotate(-90 283.70 258.70)">cells</text>
<text x="470.40" y="213.40" font-size="9.0" text-anchor="middle" fill="#231f20" textLength="49.30" lengthAdjust="spacingAndGlyphs">Primary AML</text>
<line x1="430.00" y1="235.00" x2="430.00" y2="285.60" stroke="#2a2a2a" stroke-width="1.2"/>
<line x1="429.40" y1="285.10" x2="510.00" y2="285.10" stroke="#2a2a2a" stroke-width="1.35"/>
<line x1="427.60" y1="237.50" x2="430.00" y2="237.50" stroke="#231f20" stroke-width="0.9"/>
<text x="424.70" y="240.10" font-size="7.2" text-anchor="end" fill="#231f20">60</text>
<line x1="427.60" y1="253.30" x2="430.00" y2="253.30" stroke="#231f20" stroke-width="0.9"/>
<text x="424.70" y="255.90" font-size="7.2" text-anchor="end" fill="#231f20">40</text>
<line x1="427.60" y1="269.20" x2="430.00" y2="269.20" stroke="#231f20" stroke-width="0.9"/>
<text x="424.70" y="271.80" font-size="7.2" text-anchor="end" fill="#231f20">20</text>
<line x1="427.60" y1="285.00" x2="430.00" y2="285.00" stroke="#231f20" stroke-width="0.9"/>
<text x="424.70" y="287.60" font-size="7.2" text-anchor="end" fill="#231f20">0</text>
<rect x="436.25" y="280.00" width="13.25" height="5.00" fill="#a03744" stroke="#8e1f33" stroke-width="0.8"/>
<line x1="442.88" y1="280.00" x2="442.88" y2="273.75" stroke="#333" stroke-width="0.9"/>
<line x1="439.56" y1="273.75" x2="446.19" y2="273.75" stroke="#333" stroke-width="0.9"/>
<line x1="442.88" y1="285.00" x2="442.88" y2="287.90" stroke="#231f20" stroke-width="0.9"/>
<text x="445.97" y="295.40" font-size="7.1" text-anchor="end" fill="#231f20" transform="rotate(-45 445.97 295.40)">Dinaciclib 5nM</text>
<rect x="455.75" y="278.25" width="13.00" height="6.75" fill="#a03744" stroke="#8e1f33" stroke-width="0.8"/>
<line x1="462.25" y1="278.25" x2="462.25" y2="268.75" stroke="#333" stroke-width="0.9"/>
<line x1="459.00" y1="268.75" x2="465.50" y2="268.75" stroke="#333" stroke-width="0.9"/>
<line x1="462.25" y1="285.00" x2="462.25" y2="287.90" stroke="#231f20" stroke-width="0.9"/>
<text x="465.35" y="295.40" font-size="7.1" text-anchor="end" fill="#231f20" transform="rotate(-45 465.35 295.40)">Dinaciclib 10nM</text>
<rect x="475.00" y="268.75" width="13.25" height="16.25" fill="#a03744" stroke="#8e1f33" stroke-width="0.8"/>
<line x1="481.62" y1="268.75" x2="481.62" y2="261.25" stroke="#333" stroke-width="0.9"/>
<line x1="478.31" y1="261.25" x2="484.94" y2="261.25" stroke="#333" stroke-width="0.9"/>
<line x1="481.62" y1="285.00" x2="481.62" y2="287.90" stroke="#231f20" stroke-width="0.9"/>
<text x="484.72" y="295.40" font-size="7.1" text-anchor="end" fill="#231f20" transform="rotate(-45 484.72 295.40)">Dinaciclib 20nM</text>
<rect x="494.25" y="250.00" width="13.25" height="35.00" fill="#a03744" stroke="#8e1f33" stroke-width="0.8"/>
<line x1="500.88" y1="250.00" x2="500.88" y2="243.75" stroke="#333" stroke-width="0.9"/>
<line x1="497.56" y1="243.75" x2="504.19" y2="243.75" stroke="#333" stroke-width="0.9"/>
<line x1="500.88" y1="285.00" x2="500.88" y2="287.90" stroke="#231f20" stroke-width="0.9"/>
<text x="503.97" y="295.40" font-size="7.1" text-anchor="end" fill="#231f20" transform="rotate(-45 503.97 295.40)">Dinaciclib 100nM</text>
<text x="400.30" y="260.20" font-size="8.34" text-anchor="middle" fill="#231f20" textLength="79.00" lengthAdjust="spacingAndGlyphs" transform="rotate(-90 400.30 260.20)">% increase CD107a+</text>
<text x="409.10" y="260.40" font-size="8.4" text-anchor="middle" fill="#231f20" textLength="30.90" lengthAdjust="spacingAndGlyphs" transform="rotate(-90 409.10 260.40)">NK cells</text>
<line x1="27.20" y1="417.60" x2="229.60" y2="417.60" stroke="#222" stroke-width="1.1"/>
<path d="M27.00,417.20 C28.83,417.18 34.95,417.17 38.00,417.10 C41.05,417.03 43.13,417.23 45.30,416.80 C47.47,416.37 48.93,415.50 51.00,414.50 C53.07,413.50 55.87,412.30 57.70,410.80 C59.53,409.30 60.53,407.57 62.00,405.50 C63.47,403.43 65.00,401.15 66.50,398.40 C68.00,395.65 69.52,392.23 71.00,389.00 C72.48,385.77 74.15,382.50 75.40,379.00 C76.65,375.50 77.47,371.70 78.50,368.00 C79.53,364.30 80.50,357.93 81.60,356.80 C82.70,355.67 83.98,361.33 85.10,361.20 C86.22,361.07 87.27,357.47 88.30,356.00 C89.33,354.53 90.20,351.23 91.30,352.40 C92.40,353.57 93.42,358.57 94.90,363.00 C96.38,367.43 98.43,374.28 100.20,379.00 C101.97,383.72 103.73,387.47 105.50,391.30 C107.27,395.13 109.22,399.62 110.80,402.00 C112.38,404.38 113.53,404.72 115.00,405.60 C116.47,406.48 118.10,407.03 119.60,407.30 C121.10,407.57 122.77,407.32 124.00,407.20 C125.23,407.08 125.75,406.63 127.00,406.60 C128.25,406.57 129.83,407.18 131.50,407.00 C133.17,406.82 135.25,405.63 137.00,405.50 C138.75,405.37 140.42,406.03 142.00,406.20 C143.58,406.37 144.83,406.40 146.50,406.50 C148.17,406.60 149.92,406.48 152.00,406.80 C154.08,407.12 156.83,407.78 159.00,408.40 C161.17,409.02 163.03,409.85 165.00,410.50 C166.97,411.15 168.63,411.80 170.80,412.30 C172.97,412.80 175.70,413.12 178.00,413.50 C180.30,413.88 182.60,414.28 184.60,414.60 C186.60,414.92 188.10,415.17 190.00,415.40 C191.90,415.63 192.67,415.80 196.00,416.00 C199.33,416.20 204.50,416.47 210.00,416.60 C215.50,416.73 225.83,416.77 229.00,416.80 L229.00,417.2 L27.00,417.2 Z" fill="#eec3ab" fill-opacity="0.8" stroke="none"/>
<path d="M27.00,417.20 C28.83,417.18 34.95,417.17 38.00,417.10 C41.05,417.03 43.13,417.23 45.30,416.80 C47.47,416.37 48.93,415.50 51.00,414.50 C53.07,413.50 55.87,412.30 57.70,410.80 C59.53,409.30 60.53,407.57 62.00,405.50 C63.47,403.43 65.00,401.15 66.50,398.40 C68.00,395.65 69.52,392.23 71.00,389.00 C72.48,385.77 74.15,382.50 75.40,379.00 C76.65,375.50 77.47,371.70 78.50,368.00 C79.53,364.30 80.50,357.93 81.60,356.80 C82.70,355.67 83.98,361.33 85.10,361.20 C86.22,361.07 87.27,357.47 88.30,356.00 C89.33,354.53 90.20,351.23 91.30,352.40 C92.40,353.57 93.42,358.57 94.90,363.00 C96.38,367.43 98.43,374.28 100.20,379.00 C101.97,383.72 103.73,387.47 105.50,391.30 C107.27,395.13 109.22,399.62 110.80,402.00 C112.38,404.38 113.53,404.72 115.00,405.60 C116.47,406.48 118.10,407.03 119.60,407.30 C121.10,407.57 122.77,407.32 124.00,407.20 C125.23,407.08 125.75,406.63 127.00,406.60 C128.25,406.57 129.83,407.18 131.50,407.00 C133.17,406.82 135.25,405.63 137.00,405.50 C138.75,405.37 140.42,406.03 142.00,406.20 C143.58,406.37 144.83,406.40 146.50,406.50 C148.17,406.60 149.92,406.48 152.00,406.80 C154.08,407.12 156.83,407.78 159.00,408.40 C161.17,409.02 163.03,409.85 165.00,410.50 C166.97,411.15 168.63,411.80 170.80,412.30 C172.97,412.80 175.70,413.12 178.00,413.50 C180.30,413.88 182.60,414.28 184.60,414.60 C186.60,414.92 188.10,415.17 190.00,415.40 C191.90,415.63 192.67,415.80 196.00,416.00 C199.33,416.20 204.50,416.47 210.00,416.60 C215.50,416.73 225.83,416.77 229.00,416.80" fill="none" stroke="#b02a42" stroke-opacity="1.0" stroke-width="1.2" stroke-linejoin="round"/>
<path d="M27.00,417.20 C28.50,417.18 33.83,417.17 36.00,417.10 C38.17,417.03 38.50,417.05 40.00,416.80 C41.50,416.55 43.23,416.15 45.00,415.60 C46.77,415.05 48.93,414.30 50.60,413.50 C52.27,412.70 53.52,411.83 55.00,410.80 C56.48,409.77 58.17,408.77 59.50,407.30 C60.83,405.83 61.83,404.05 63.00,402.00 C64.17,399.95 65.50,397.33 66.50,395.00 C67.50,392.67 68.25,390.67 69.00,388.00 C69.75,385.33 70.23,382.00 71.00,379.00 C71.77,376.00 72.77,372.17 73.60,370.00 C74.43,367.83 75.27,366.90 76.00,366.00 C76.73,365.10 77.25,365.60 78.00,364.60 C78.75,363.60 79.75,361.77 80.50,360.00 C81.25,358.23 81.87,356.00 82.50,354.00 C83.13,352.00 83.77,349.38 84.30,348.00 C84.83,346.62 85.17,345.70 85.70,345.70 C86.23,345.70 86.85,346.58 87.50,348.00 C88.15,349.42 88.67,351.12 89.60,354.20 C90.53,357.28 91.63,361.78 93.10,366.50 C94.57,371.22 96.63,377.77 98.40,382.50 C100.17,387.23 101.93,391.07 103.70,394.90 C105.47,398.73 107.23,403.00 109.00,405.50 C110.77,408.00 112.53,409.02 114.30,409.90 C116.07,410.78 117.82,410.65 119.60,410.80 C121.38,410.95 123.27,410.83 125.00,410.80 C126.73,410.77 127.83,410.48 130.00,410.60 C132.17,410.72 135.33,411.22 138.00,411.50 C140.67,411.78 143.33,412.05 146.00,412.30 C148.67,412.55 151.67,412.72 154.00,413.00 C156.33,413.28 158.00,413.53 160.00,414.00 C162.00,414.47 163.50,415.33 166.00,415.80 C168.50,416.27 171.00,416.53 175.00,416.80 C179.00,417.07 181.00,417.25 190.00,417.40 C199.00,417.55 222.50,417.65 229.00,417.70 L229.00,417.2 L27.00,417.2 Z" fill="#b9b9dc" fill-opacity="0.55" stroke="none"/>
<path d="M27.00,417.20 C28.50,417.18 33.83,417.17 36.00,417.10 C38.17,417.03 38.50,417.05 40.00,416.80 C41.50,416.55 43.23,416.15 45.00,415.60 C46.77,415.05 48.93,414.30 50.60,413.50 C52.27,412.70 53.52,411.83 55.00,410.80 C56.48,409.77 58.17,408.77 59.50,407.30 C60.83,405.83 61.83,404.05 63.00,402.00 C64.17,399.95 65.50,397.33 66.50,395.00 C67.50,392.67 68.25,390.67 69.00,388.00 C69.75,385.33 70.23,382.00 71.00,379.00 C71.77,376.00 72.77,372.17 73.60,370.00 C74.43,367.83 75.27,366.90 76.00,366.00 C76.73,365.10 77.25,365.60 78.00,364.60 C78.75,363.60 79.75,361.77 80.50,360.00 C81.25,358.23 81.87,356.00 82.50,354.00 C83.13,352.00 83.77,349.38 84.30,348.00 C84.83,346.62 85.17,345.70 85.70,345.70 C86.23,345.70 86.85,346.58 87.50,348.00 C88.15,349.42 88.67,351.12 89.60,354.20 C90.53,357.28 91.63,361.78 93.10,366.50 C94.57,371.22 96.63,377.77 98.40,382.50 C100.17,387.23 101.93,391.07 103.70,394.90 C105.47,398.73 107.23,403.00 109.00,405.50 C110.77,408.00 112.53,409.02 114.30,409.90 C116.07,410.78 117.82,410.65 119.60,410.80 C121.38,410.95 123.27,410.83 125.00,410.80 C126.73,410.77 127.83,410.48 130.00,410.60 C132.17,410.72 135.33,411.22 138.00,411.50 C140.67,411.78 143.33,412.05 146.00,412.30 C148.67,412.55 151.67,412.72 154.00,413.00 C156.33,413.28 158.00,413.53 160.00,414.00 C162.00,414.47 163.50,415.33 166.00,415.80 C168.50,416.27 171.00,416.53 175.00,416.80 C179.00,417.07 181.00,417.25 190.00,417.40 C199.00,417.55 222.50,417.65 229.00,417.70" fill="none" stroke="#3a5790" stroke-opacity="1.0" stroke-width="1.2" stroke-linejoin="round"/>
<line x1="31.70" y1="417.20" x2="31.70" y2="419.70" stroke="#222" stroke-width="0.75"/>
<line x1="35.90" y1="417.20" x2="35.90" y2="419.70" stroke="#222" stroke-width="0.75"/>
<line x1="40.50" y1="417.20" x2="40.50" y2="419.70" stroke="#222" stroke-width="0.75"/>
<line x1="44.20" y1="417.20" x2="44.20" y2="419.70" stroke="#222" stroke-width="0.75"/>
<line x1="47.10" y1="417.20" x2="47.10" y2="419.70" stroke="#222" stroke-width="0.75"/>
<line x1="50.20" y1="417.20" x2="50.20" y2="419.70" stroke="#222" stroke-width="0.75"/>
<line x1="52.80" y1="417.20" x2="52.80" y2="419.70" stroke="#222" stroke-width="0.75"/>
<line x1="55.50" y1="417.20" x2="55.50" y2="419.70" stroke="#222" stroke-width="0.75"/>
<line x1="57.60" y1="417.20" x2="57.60" y2="419.70" stroke="#222" stroke-width="0.75"/>
<line x1="85.70" y1="417.20" x2="85.70" y2="419.70" stroke="#222" stroke-width="0.75"/>
<line x1="101.10" y1="417.20" x2="101.10" y2="419.70" stroke="#222" stroke-width="0.75"/>
<line x1="112.00" y1="417.20" x2="112.00" y2="419.70" stroke="#222" stroke-width="0.75"/>
<line x1="120.40" y1="417.20" x2="120.40" y2="419.70" stroke="#222" stroke-width="0.75"/>
<line x1="127.40" y1="417.20" x2="127.40" y2="419.70" stroke="#222" stroke-width="0.75"/>
<line x1="133.20" y1="417.20" x2="133.20" y2="419.70" stroke="#222" stroke-width="0.75"/>
<line x1="138.20" y1="417.20" x2="138.20" y2="419.70" stroke="#222" stroke-width="0.75"/>
<line x1="142.70" y1="417.20" x2="142.70" y2="419.70" stroke="#222" stroke-width="0.75"/>
<line x1="173.00" y1="417.20" x2="173.00" y2="419.70" stroke="#222" stroke-width="0.75"/>
<line x1="188.30" y1="417.20" x2="188.30" y2="419.70" stroke="#222" stroke-width="0.75"/>
<line x1="199.20" y1="417.20" x2="199.20" y2="419.70" stroke="#222" stroke-width="0.75"/>
<line x1="207.60" y1="417.20" x2="207.60" y2="419.70" stroke="#222" stroke-width="0.75"/>
<line x1="214.60" y1="417.20" x2="214.60" y2="419.70" stroke="#222" stroke-width="0.75"/>
<line x1="220.40" y1="417.20" x2="220.40" y2="419.70" stroke="#222" stroke-width="0.75"/>
<line x1="225.40" y1="417.20" x2="225.40" y2="419.70" stroke="#222" stroke-width="0.75"/>
<line x1="59.80" y1="417.20" x2="59.80" y2="420.50" stroke="#222" stroke-width="0.85"/>
<line x1="147.00" y1="417.20" x2="147.00" y2="420.50" stroke="#222" stroke-width="0.85"/>
<text x='55.00' y='429.6' font-size='7.9' font-family='"Liberation Serif", serif' fill='#231f20' text-anchor='start'>10<tspan font-size='5.2' dy='-3.3'>2</tspan></text>
<text x='142.90' y='429.6' font-size='7.9' font-family='"Liberation Serif", serif' fill='#231f20' text-anchor='start'>10<tspan font-size='5.2' dy='-3.3'>3</tspan></text>
<line x1="155.40" y1="362.30" x2="170.80" y2="362.30" stroke="#4a6aa8" stroke-width="1.1"/>
<line x1="155.40" y1="370.40" x2="170.80" y2="370.40" stroke="#c0304a" stroke-width="1.1"/>
<text x="173.80" y="364.70" font-size="6.8" text-anchor="start" fill="#231f20" textLength="22.00" lengthAdjust="spacingAndGlyphs">Control</text>
<text x="173.80" y="372.70" font-size="6.8" text-anchor="start" fill="#231f20" textLength="48.50" lengthAdjust="spacingAndGlyphs">Dinaciclib 20nM</text>
<text x="128.65" y="442.90" font-size="9.2" text-anchor="middle" fill="#231f20" textLength="31.50" lengthAdjust="spacingAndGlyphs">CD107A</text>
<line x1="293.00" y1="418.40" x2="481.50" y2="418.40" stroke="#222" stroke-width="1.1"/>
<path d="M293.00,417.90 C296.67,417.88 309.67,417.90 315.00,417.80 C320.33,417.70 322.67,417.50 325.00,417.30 C327.33,417.10 327.72,416.95 329.00,416.60 C330.28,416.25 331.20,416.17 332.70,415.20 C334.20,414.23 336.53,413.60 338.00,410.80 C339.47,408.00 340.17,402.83 341.50,398.40 C342.83,393.97 344.67,388.62 346.00,384.20 C347.33,379.78 348.47,376.02 349.50,371.90 C350.53,367.78 351.40,363.35 352.20,359.50 C353.00,355.65 353.72,350.93 354.30,348.80 C354.88,346.67 355.02,346.70 355.70,346.70 C356.38,346.70 357.45,348.15 358.40,348.80 C359.35,349.45 360.52,349.70 361.40,350.60 C362.28,351.50 363.03,351.55 363.70,354.20 C364.37,356.85 364.67,361.50 365.40,366.50 C366.13,371.50 367.07,378.88 368.10,384.20 C369.13,389.52 370.27,394.55 371.60,398.40 C372.93,402.25 374.32,405.08 376.10,407.30 C377.88,409.52 380.10,410.82 382.30,411.70 C384.50,412.58 387.53,412.52 389.30,412.60 C391.07,412.68 391.78,412.17 392.90,412.20 C394.02,412.23 394.32,412.55 396.00,412.80 C397.68,413.05 400.03,413.27 403.00,413.70 C405.97,414.13 409.52,414.83 413.80,415.40 C418.08,415.97 417.50,416.75 428.70,417.10 C439.90,417.45 472.28,417.43 481.00,417.50 L481.00,418.0 L293.00,418.0 Z" fill="#eec3ab" fill-opacity="0.8" stroke="none"/>
<path d="M293.00,417.90 C296.67,417.88 309.67,417.90 315.00,417.80 C320.33,417.70 322.67,417.50 325.00,417.30 C327.33,417.10 327.72,416.95 329.00,416.60 C330.28,416.25 331.20,416.17 332.70,415.20 C334.20,414.23 336.53,413.60 338.00,410.80 C339.47,408.00 340.17,402.83 341.50,398.40 C342.83,393.97 344.67,388.62 346.00,384.20 C347.33,379.78 348.47,376.02 349.50,371.90 C350.53,367.78 351.40,363.35 352.20,359.50 C353.00,355.65 353.72,350.93 354.30,348.80 C354.88,346.67 355.02,346.70 355.70,346.70 C356.38,346.70 357.45,348.15 358.40,348.80 C359.35,349.45 360.52,349.70 361.40,350.60 C362.28,351.50 363.03,351.55 363.70,354.20 C364.37,356.85 364.67,361.50 365.40,366.50 C366.13,371.50 367.07,378.88 368.10,384.20 C369.13,389.52 370.27,394.55 371.60,398.40 C372.93,402.25 374.32,405.08 376.10,407.30 C377.88,409.52 380.10,410.82 382.30,411.70 C384.50,412.58 387.53,412.52 389.30,412.60 C391.07,412.68 391.78,412.17 392.90,412.20 C394.02,412.23 394.32,412.55 396.00,412.80 C397.68,413.05 400.03,413.27 403.00,413.70 C405.97,414.13 409.52,414.83 413.80,415.40 C418.08,415.97 417.50,416.75 428.70,417.10 C439.90,417.45 472.28,417.43 481.00,417.50" fill="none" stroke="#b02a42" stroke-opacity="1.0" stroke-width="1.2" stroke-linejoin="round"/>
<path d="M293.00,418.00 C295.83,417.98 306.17,417.97 310.00,417.90 C313.83,417.83 314.17,417.82 316.00,417.60 C317.83,417.38 319.40,417.00 321.00,416.60 C322.60,416.20 323.80,416.47 325.60,415.20 C327.40,413.93 330.23,410.87 331.80,409.00 C333.37,407.13 334.12,405.77 335.00,404.00 C335.88,402.23 336.30,401.40 337.10,398.40 C337.90,395.40 338.77,389.68 339.80,386.00 C340.83,382.32 342.12,379.55 343.30,376.30 C344.48,373.05 345.87,370.18 346.90,366.50 C347.93,362.82 348.77,356.62 349.50,354.20 C350.23,351.78 350.72,352.15 351.30,352.00 C351.88,351.85 352.12,351.47 353.00,353.30 C353.88,355.13 355.42,359.32 356.60,363.00 C357.78,366.68 359.07,372.30 360.10,375.40 C361.13,378.50 361.92,379.23 362.80,381.60 C363.68,383.97 364.52,386.37 365.40,389.60 C366.28,392.83 367.07,398.20 368.10,401.00 C369.13,403.80 370.12,404.92 371.60,406.40 C373.08,407.88 374.93,408.93 377.00,409.90 C379.07,410.87 381.07,411.70 384.00,412.20 C386.93,412.70 391.43,412.43 394.60,412.90 C397.77,413.37 399.60,414.35 403.00,415.00 C406.40,415.65 410.50,416.32 415.00,416.80 C419.50,417.28 419.00,417.65 430.00,417.90 C441.00,418.15 472.50,418.23 481.00,418.30 L481.00,418.0 L293.00,418.0 Z" fill="#b9b9dc" fill-opacity="0.55" stroke="none"/>
<path d="M293.00,418.00 C295.83,417.98 306.17,417.97 310.00,417.90 C313.83,417.83 314.17,417.82 316.00,417.60 C317.83,417.38 319.40,417.00 321.00,416.60 C322.60,416.20 323.80,416.47 325.60,415.20 C327.40,413.93 330.23,410.87 331.80,409.00 C333.37,407.13 334.12,405.77 335.00,404.00 C335.88,402.23 336.30,401.40 337.10,398.40 C337.90,395.40 338.77,389.68 339.80,386.00 C340.83,382.32 342.12,379.55 343.30,376.30 C344.48,373.05 345.87,370.18 346.90,366.50 C347.93,362.82 348.77,356.62 349.50,354.20 C350.23,351.78 350.72,352.15 351.30,352.00 C351.88,351.85 352.12,351.47 353.00,353.30 C353.88,355.13 355.42,359.32 356.60,363.00 C357.78,366.68 359.07,372.30 360.10,375.40 C361.13,378.50 361.92,379.23 362.80,381.60 C363.68,383.97 364.52,386.37 365.40,389.60 C366.28,392.83 367.07,398.20 368.10,401.00 C369.13,403.80 370.12,404.92 371.60,406.40 C373.08,407.88 374.93,408.93 377.00,409.90 C379.07,410.87 381.07,411.70 384.00,412.20 C386.93,412.70 391.43,412.43 394.60,412.90 C397.77,413.37 399.60,414.35 403.00,415.00 C406.40,415.65 410.50,416.32 415.00,416.80 C419.50,417.28 419.00,417.65 430.00,417.90 C441.00,418.15 472.50,418.23 481.00,418.30" fill="none" stroke="#3a5790" stroke-opacity="1.0" stroke-width="1.2" stroke-linejoin="round"/>
<line x1="296.20" y1="418.00" x2="296.20" y2="420.50" stroke="#222" stroke-width="0.75"/>
<line x1="298.50" y1="418.00" x2="298.50" y2="420.50" stroke="#222" stroke-width="0.75"/>
<line x1="300.80" y1="418.00" x2="300.80" y2="420.50" stroke="#222" stroke-width="0.75"/>
<line x1="302.70" y1="418.00" x2="302.70" y2="420.50" stroke="#222" stroke-width="0.75"/>
<line x1="304.60" y1="418.00" x2="304.60" y2="420.50" stroke="#222" stroke-width="0.75"/>
<line x1="306.20" y1="418.00" x2="306.20" y2="420.50" stroke="#222" stroke-width="0.75"/>
<line x1="307.00" y1="418.00" x2="307.00" y2="420.50" stroke="#222" stroke-width="0.75"/>
<line x1="307.80" y1="418.00" x2="307.80" y2="420.50" stroke="#222" stroke-width="0.75"/>
<line x1="308.60" y1="418.00" x2="308.60" y2="420.50" stroke="#222" stroke-width="0.75"/>
<line x1="309.40" y1="418.00" x2="309.40" y2="420.50" stroke="#222" stroke-width="0.75"/>
<line x1="310.20" y1="418.00" x2="310.20" y2="420.50" stroke="#222" stroke-width="0.75"/>
<line x1="311.00" y1="418.00" x2="311.00" y2="420.50" stroke="#222" stroke-width="0.75"/>
<line x1="311.80" y1="418.00" x2="311.80" y2="420.50" stroke="#222" stroke-width="0.75"/>
<line x1="312.50" y1="418.00" x2="312.50" y2="420.50" stroke="#222" stroke-width="0.75"/>
<line x1="313.10" y1="418.00" x2="313.10" y2="420.50" stroke="#222" stroke-width="0.75"/>
<line x1="315.40" y1="418.00" x2="315.40" y2="420.50" stroke="#222" stroke-width="0.75"/>
<line x1="317.70" y1="418.00" x2="317.70" y2="420.50" stroke="#222" stroke-width="0.75"/>
<line x1="320.00" y1="418.00" x2="320.00" y2="420.50" stroke="#222" stroke-width="0.75"/>
<line x1="322.30" y1="418.00" x2="322.30" y2="420.50" stroke="#222" stroke-width="0.75"/>
<line x1="324.20" y1="418.00" x2="324.20" y2="420.50" stroke="#222" stroke-width="0.75"/>
<line x1="326.50" y1="418.00" x2="326.50" y2="420.50" stroke="#222" stroke-width="0.75"/>
<line x1="328.50" y1="418.00" x2="328.50" y2="420.50" stroke="#222" stroke-width="0.75"/>
<line x1="330.50" y1="418.00" x2="330.50" y2="420.50" stroke="#222" stroke-width="0.75"/>
<line x1="332.30" y1="418.00" x2="332.30" y2="420.50" stroke="#222" stroke-width="0.75"/>
<line x1="334.00" y1="418.00" x2="334.00" y2="420.50" stroke="#222" stroke-width="0.75"/>
<line x1="356.40" y1="418.00" x2="356.40" y2="420.50" stroke="#222" stroke-width="0.75"/>
<line x1="368.70" y1="418.00" x2="368.70" y2="420.50" stroke="#222" stroke-width="0.75"/>
<line x1="377.30" y1="418.00" x2="377.30" y2="420.50" stroke="#222" stroke-width="0.75"/>
<line x1="384.10" y1="418.00" x2="384.10" y2="420.50" stroke="#222" stroke-width="0.75"/>
<line x1="389.60" y1="418.00" x2="389.60" y2="420.50" stroke="#222" stroke-width="0.75"/>
<line x1="394.20" y1="418.00" x2="394.20" y2="420.50" stroke="#222" stroke-width="0.75"/>
<line x1="398.30" y1="418.00" x2="398.30" y2="420.50" stroke="#222" stroke-width="0.75"/>
<line x1="401.80" y1="418.00" x2="401.80" y2="420.50" stroke="#222" stroke-width="0.75"/>
<line x1="425.00" y1="418.00" x2="425.00" y2="420.50" stroke="#222" stroke-width="0.75"/>
<line x1="436.80" y1="418.00" x2="436.80" y2="420.50" stroke="#222" stroke-width="0.75"/>
<line x1="445.10" y1="418.00" x2="445.10" y2="420.50" stroke="#222" stroke-width="0.75"/>
<line x1="451.60" y1="418.00" x2="451.60" y2="420.50" stroke="#222" stroke-width="0.75"/>
<line x1="456.40" y1="418.00" x2="456.40" y2="420.50" stroke="#222" stroke-width="0.75"/>
<line x1="461.90" y1="418.00" x2="461.90" y2="420.50" stroke="#222" stroke-width="0.75"/>
<line x1="465.70" y1="418.00" x2="465.70" y2="420.50" stroke="#222" stroke-width="0.75"/>
<line x1="469.20" y1="418.00" x2="469.20" y2="420.50" stroke="#222" stroke-width="0.75"/>
<line x1="475.00" y1="418.00" x2="475.00" y2="420.50" stroke="#222" stroke-width="0.75"/>
<line x1="479.00" y1="418.00" x2="479.00" y2="420.50" stroke="#222" stroke-width="0.75"/>
<line x1="311.00" y1="418.00" x2="311.00" y2="421.30" stroke="#222" stroke-width="0.85"/>
<line x1="335.50" y1="418.00" x2="335.50" y2="421.30" stroke="#222" stroke-width="0.85"/>
<line x1="405.00" y1="418.00" x2="405.00" y2="421.30" stroke="#222" stroke-width="0.85"/>
<line x1="471.60" y1="418.00" x2="471.60" y2="421.30" stroke="#222" stroke-width="0.85"/>
<text x='309.60' y='429.6' font-size='7.9' font-family='"Liberation Serif", serif' fill='#231f20' text-anchor='start'>0</text>
<text x='329.80' y='429.6' font-size='7.9' font-family='"Liberation Serif", serif' fill='#231f20' text-anchor='start'>10<tspan font-size='5.2' dy='-3.3'>2</tspan></text>
<text x='399.50' y='429.6' font-size='7.9' font-family='"Liberation Serif", serif' fill='#231f20' text-anchor='start'>10<tspan font-size='5.2' dy='-3.3'>3</tspan></text>
<text x='466.70' y='429.6' font-size='7.9' font-family='"Liberation Serif", serif' fill='#231f20' text-anchor='start'>10<tspan font-size='5.2' dy='-3.3'>4</tspan></text>
<line x1="407.00" y1="362.30" x2="422.40" y2="362.30" stroke="#4a6aa8" stroke-width="1.1"/>
<line x1="407.00" y1="370.40" x2="422.40" y2="370.40" stroke="#c0304a" stroke-width="1.1"/>
<text x="425.40" y="364.70" font-size="6.8" text-anchor="start" fill="#231f20" textLength="22.00" lengthAdjust="spacingAndGlyphs">Control</text>
<text x="425.40" y="372.70" font-size="6.8" text-anchor="start" fill="#231f20" textLength="48.50" lengthAdjust="spacingAndGlyphs">Dinaciclib 20nM</text>
<text x="388.70" y="442.90" font-size="9.2" text-anchor="middle" fill="#231f20" textLength="31.50" lengthAdjust="spacingAndGlyphs">CD107A</text>
<rect x="0" y="0" width="520" height="1" fill="#4a4a4a"/>
<rect x="0" y="1" width="520" height="1" fill="#b5b5b5"/>
<rect x="0" y="0" width="1" height="452" fill="#111"/>
<rect x="1" y="1" width="1" height="450" fill="#d8d8d8"/>
<rect x="519" y="0" width="1" height="452" fill="#444"/>
<rect x="518" y="1" width="1" height="450" fill="#8a8a8a"/>
<rect x="0" y="451" width="520" height="1" fill="#333"/>
<rect x="1" y="450" width="518" height="1" fill="#aaa"/>
</svg></body></html>
